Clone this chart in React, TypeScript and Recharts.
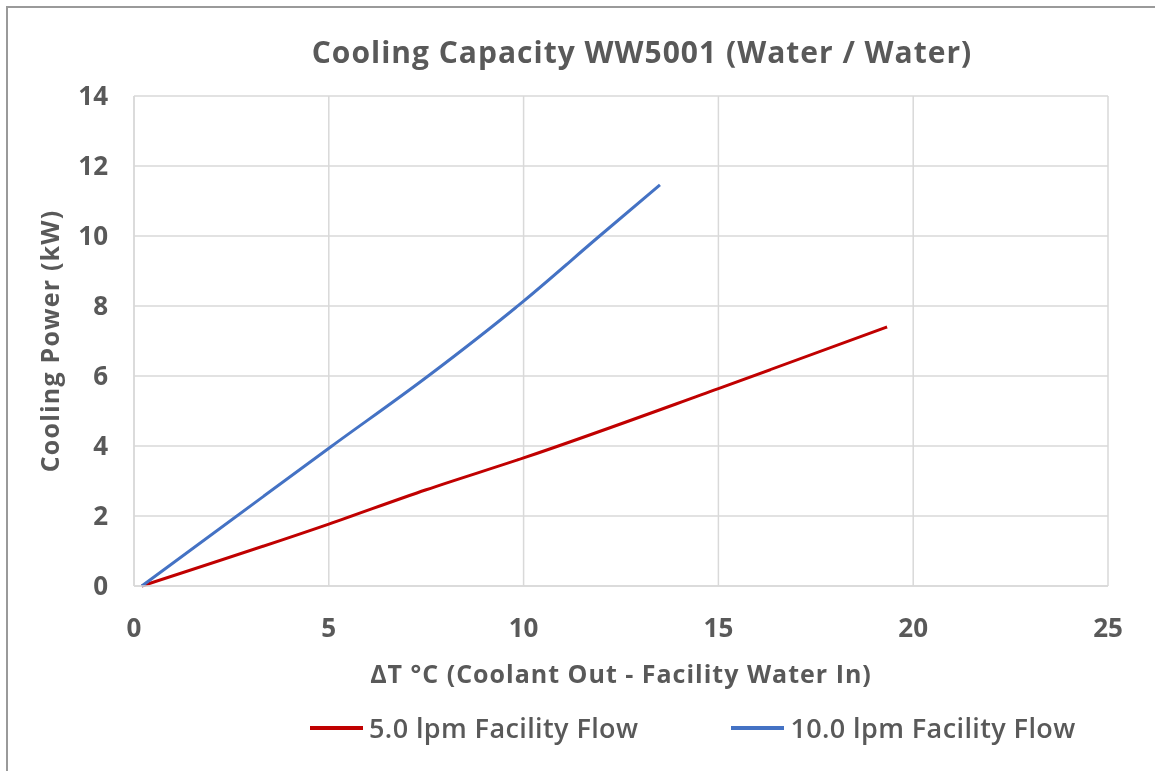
import { LineChart, Line, XAxis, YAxis, CartesianGrid } from "recharts";

const flow5 = [
  { x: 0.2, y: 0 },
  { x: 5, y: 1.77 },
  { x: 7.5, y: 2.75 },
  { x: 10, y: 3.66 },
  { x: 15, y: 5.64 },
  { x: 19.33, y: 7.4 },
];

const flow10 = [
  { x: 0.2, y: 0 },
  { x: 5.08, y: 4.0 },
  { x: 7.55, y: 6.0 },
  { x: 10, y: 8.14 },
  { x: 11.95, y: 10.0 },
  { x: 13.5, y: 11.46 },
];

const seriesNames = ["5.0 lpm Facility Flow", "10.0 lpm Facility Flow"];
const seriesColors = ["#c00000", "#4472c4"];

const xTicks = [0, 5, 10, 15, 20, 25];
const yTicks = [0, 2, 4, 6, 8, 10, 12, 14];

const FONT = "'Open Sans', Lato, sans-serif";
const TEXT = "#595959";
const GRID = "#d9d9d9";

export default function App() {
  return (
    <div style={{ position: "relative", width: 1147, height: 763 }}>
      <div style={{ position: "fixed", left: 6, top: 6, width: 1170, height: 800, border: "2px solid #9a9a9a", pointerEvents: "none" }} />
      <div style={{ position: "absolute", left: 0, width: 1268, top: 23, textAlign: "center", fontFamily: FONT, fontWeight: 700, fontSize: 30, letterSpacing: 1, color: TEXT, whiteSpace: "nowrap" }}>
        Cooling Capacity WW5001 (Water / Water)
      </div>
      <div style={{ position: "absolute", left: 0, top: 0 }}>
        <LineChart width={1147} height={765} margin={{ top: 88, right: 47, bottom: 87, left: 26 }}>
          <CartesianGrid stroke={GRID} strokeWidth={1.5} />
          <XAxis
            type="number"
            dataKey="x"
            domain={[0, 25]}
            ticks={xTicks}
            allowDuplicatedCategory={false}
            tickLine={false}
            axisLine={{ stroke: GRID, strokeWidth: 1.5 }}
            tick={{ fill: TEXT, fontSize: 26, fontWeight: 700, fontFamily: FONT }}
            tickMargin={27}
            height={100}
            label={{ value: "ΔT °C (Coolant Out - Facility Water In)", position: "insideTop", offset: 79, fill: TEXT, fontSize: 25, fontWeight: 700, fontFamily: FONT, letterSpacing: 1 }}
          />
          <YAxis
            type="number"
            dataKey="y"
            domain={[0, 14]}
            ticks={yTicks}
            tickLine={false}
            axisLine={{ stroke: GRID, strokeWidth: 1.5 }}
            tick={{ fill: TEXT, fontSize: 26, fontWeight: 700, fontFamily: FONT }}
            tickMargin={20}
            width={100}
            label={{ value: "Cooling Power (kW)", angle: -90, position: "insideLeft", offset: 16, fill: TEXT, fontSize: 25, fontWeight: 700, fontFamily: FONT, letterSpacing: 1.2, style: { textAnchor: "middle" } }}
          />
          <Line data={flow5} dataKey="y" name={seriesNames[0]} type="monotone" stroke={seriesColors[0]} strokeWidth={3} dot={false} isAnimationActive={false} />
          <Line data={flow10} dataKey="y" name={seriesNames[1]} type="monotone" stroke={seriesColors[1]} strokeWidth={3} dot={false} isAnimationActive={false} />
        </LineChart>
      </div>
      <div style={{ position: "absolute", left: 302, top: 701, display: "flex", gap: 93, fontFamily: FONT, fontWeight: 600, fontSize: 27, letterSpacing: 0.4, color: TEXT, whiteSpace: "nowrap" }}>
        {seriesNames.map((n, i) => (
          <div key={n} style={{ display: "flex", alignItems: "center" }}>
            <span style={{ display: "inline-block", width: 53, height: 4, background: seriesColors[i], marginRight: 6 }} />
            {n}
          </div>
        ))}
      </div>
    </div>
  );
}
